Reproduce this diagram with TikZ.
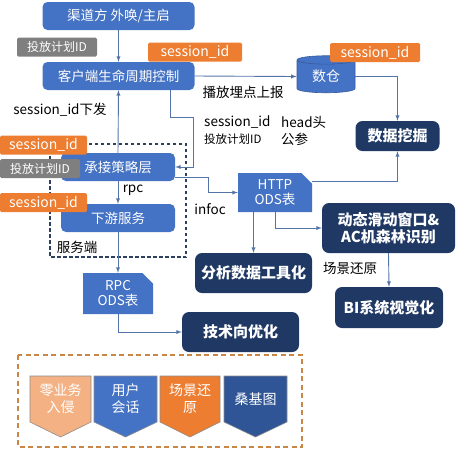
\documentclass[tikz,border=0pt]{standalone}
\usepackage{fontspec}
\setmainfont{Noto Sans CJK SC}
\usetikzlibrary{calc}
\usetikzlibrary{shapes,arrows}

\definecolor{cBlue}{RGB}{68,114,196}
\definecolor{cNavy}{RGB}{31,56,100}
\definecolor{cSankey}{RGB}{47,85,151}
\definecolor{cOrange}{RGB}{237,125,49}
\definecolor{cLightOr}{RGB}{244,177,131}
\definecolor{cGray}{RGB}{127,127,127}
\definecolor{cLine}{RGB}{84,116,168}
\definecolor{cServe}{RGB}{45,65,95}
\definecolor{cTank}{RGB}{200,135,70}

\begin{document}
\begin{tikzpicture}[x=1pt,y=-1pt,
    bluenode/.style={rectangle, rounded corners=5pt, fill=cBlue, text=white,
        font=\fontsize{13.5}{16}\selectfont, minimum height=28pt, inner sep=0pt},
    navynode/.style={rectangle, rounded corners=7pt, fill=cNavy, text=white, align=center,
        font=\fontsize{15}{17.5}\selectfont\bfseries, inner sep=0pt},
    odsnode/.style={chamfered rectangle, chamfered rectangle corners=north east,
        chamfered rectangle xsep=7pt, fill=cBlue, text=white, align=center,
        font=\fontsize{13.5}{15}\selectfont, inner sep=0pt},
    tag/.style={rectangle, rounded corners=1.5pt, fill=cOrange, text=white,
        font=\fontsize{14}{16}\selectfont, minimum height=19pt, inner sep=0pt},
    gtag/.style={rectangle, rounded corners=1.5pt, fill=cGray, text=white,
        font=\fontsize{12}{14}\selectfont, minimum height=19pt, inner sep=0pt},
    note/.style={font=\fontsize{13.5}{16}\selectfont, inner sep=0pt},
    smallnote/.style={font=\fontsize{11.5}{14}\selectfont, inner sep=0pt},
    link/.style={draw=cLine, line width=0.9pt, -latex},
    chevtext/.style={text=white, align=center, font=\fontsize{14}{17}\selectfont, inner sep=0pt}]

    \useasboundingbox (0,0) rectangle (457,451);

    % dashed frames
    \draw [cServe, line width=1.1pt, dash pattern=on 3.5pt off 2.5pt] (50,144) rectangle (186,257);
    \draw [cTank, line width=1.6pt, dash pattern=on 5pt off 3.5pt] (18,355) rectangle (302,447);

    % blue boxes
    \node [bluenode, minimum width=152pt] (src) at (118.5,16) {渠道方 外唤/主启};
    \node [bluenode, minimum width=152pt] (client) at (118.5,76) {客户端生命周期控制};
    \node [bluenode, minimum width=114pt] (strategy) at (118,167) {承接策略层};
    \node [bluenode, minimum width=114pt] (down) at (118,218) {下游服务};
    \node [cylinder, shape border rotate=90, aspect=0.3, minimum width=58pt, minimum height=37pt,
        fill=cBlue, draw=cBlue!80!black, line width=0.6pt, text=white,
        font=\fontsize{14}{16}\selectfont, inner sep=0pt] (dc) at (326,76.5) {数仓};
    \node [odsnode, minimum width=74pt, minimum height=39pt] (http) at (275,192.5) {HTTP\\ODS表};
    \node [odsnode, minimum width=70pt, minimum height=41pt] (rpcods) at (118,293.5) {RPC\\ODS表};

    % navy boxes
    \node [navynode, minimum width=84pt, minimum height=30pt] (mine) at (397.5,136) {数据挖掘};
    \node [navynode, minimum width=117pt, minimum height=40pt] (tool) at (253.5,273) {分析数据工具化};
    \node [navynode, minimum width=133pt, minimum height=50pt] (window) at (388.5,228) {动态滑动窗口\&\\AC机森林识别};
    \node [navynode, minimum width=108pt, minimum height=41pt] (bi) at (389,307.5) {BI系统视觉化};
    \node [navynode, minimum width=117pt, minimum height=40pt] (tech) at (240.5,332) {技术向优化};

    \coordinate (turn1) at (193,117);
    \coordinate (turn2) at (208,177);

    % connectors
    \draw [link] (src.south) -- (client.north);
    \draw [link] (client.east) -- (dc.west);
    \draw [link] (dc.east) -| (mine.north);
    \draw [link] ([yshift=11pt]http.east) -| (mine.south);
    \draw [link] ([xshift=51.5pt]client.south) |- (turn1) |- (strategy.east);
    \draw [link] (strategy.north) -- (client.south);
    \draw [link] (strategy.south) -- (down.north);
    \draw [link] ([yshift=-10pt]strategy.east) -- (turn2) |- (http.west);
    \draw [link] (down.south) -- (rpcods.north);
    \draw [link] (rpcods.south) |- (tech.west);
    \draw [link] (http.south -| tool.north) -- (tool.north);
    \draw [link] (http.south) |- (window.west);
    \draw [link] (window.south) -- (bi.north);

    % tags
    \node [gtag, minimum width=80pt] (planA) at (57,47) {投放计划ID};
    \node [tag, minimum width=94pt] (sidA) at (195,52) {session\_id};
    \node [tag, minimum width=90pt] (sidB) at (375,52.5) {session\_id};
    \node [tag, minimum width=87pt] (sidC) at (43.5,145) {session\_id};
    \node [gtag, minimum width=80pt] (planB) at (40,168.5) {投放计划ID};
    \node [tag, minimum width=87pt] (sidD) at (43.5,202.5) {session\_id};

    % labels
    \node [note] (report) at (243,92.5) {播放埋点上报};
    \node [note] (issue) at (60,110) {session\_id下发};
    \node [note, anchor=west] (hdrA) at (204,122) {session\_id};
    \node [note, anchor=west] (hdrB) at (281,122) {head头};
    \node [smallnote, anchor=west] (hdrC) at (204,139) {投放计划ID};
    \node [note, anchor=west] (hdrD) at (281,139) {公参};
    \node [note] (rpc) at (133,190) {rpc};
    \node [note] (infoc) at (210,209) {infoc};
    \node [note] (server) at (77,247) {服务端};
    \node [note] (scene) at (350,268) {场景还原};

    % chevrons
    \foreach \xl/\xr/\col/\txt [count=\i] in {30/91/cLightOr/{零业务\\入侵}, 94/157/cBlue/{用户\\会话},
        160/220/cOrange/{场景还\\原}, 224/287/cSankey/{桑基图}} {
        \filldraw [fill=\col, draw=black!45, line width=0.6pt]
            (\xl,376) -- (\xr,376) -- (\xr,422) -- ({(\xl+\xr)/2},437) -- (\xl,422) -- cycle;
        \node [chevtext] (chev\i) at ({(\xl+\xr)/2},399) {\txt};
    }
\end{tikzpicture}
\end{document}
